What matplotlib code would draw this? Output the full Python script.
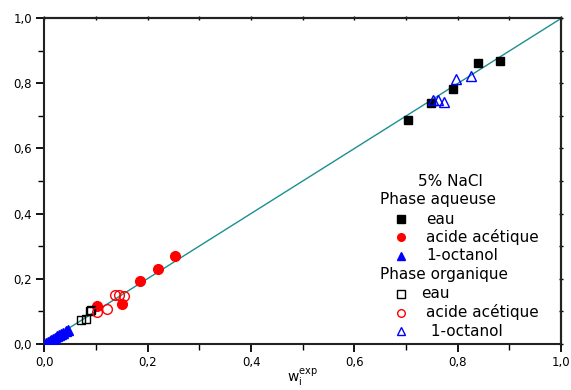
import matplotlib
matplotlib.use("Agg")
import matplotlib.pyplot as plt
from matplotlib.ticker import MultipleLocator, FuncFormatter

# ---- data (w_exp, w_calc) ----
aq_eau_x = [0.703, 0.748, 0.791, 0.839, 0.881]
aq_eau_y = [0.688, 0.739, 0.784, 0.864, 0.870]

aq_acide_x = [0.101, 0.151, 0.184, 0.220, 0.252]
aq_acide_y = [0.114, 0.121, 0.192, 0.230, 0.269]

aq_oct_x = [0.003, 0.007, 0.010, 0.013, 0.017, 0.020, 0.024, 0.028, 0.032, 0.036, 0.041, 0.046]
aq_oct_y = [0.002, 0.006, 0.009, 0.012, 0.015, 0.018, 0.022, 0.026, 0.030, 0.033, 0.038, 0.043]

org_eau_x = [0.071, 0.080, 0.088, 0.091]
org_eau_y = [0.072, 0.075, 0.100, 0.102]

org_acide_x = [0.101, 0.122, 0.136, 0.145, 0.153]
org_acide_y = [0.097, 0.105, 0.149, 0.148, 0.146]

org_oct_x = [0.752, 0.761, 0.773, 0.797, 0.826]
org_oct_y = [0.750, 0.749, 0.744, 0.815, 0.824]

diag = [0.0, 1.0]

fig = plt.figure(figsize=(5.71, 3.90), dpi=100)
ax = fig.add_axes([0.0779, 0.1192, 0.9825 - 0.0779, 0.9526 - 0.1192])

ax.plot(diag, diag, color='#1a9090', lw=1.0, zorder=1)

ax.plot(aq_eau_x, aq_eau_y, 's', color='black', ms=5.8, zorder=3)
ax.plot(aq_acide_x, aq_acide_y, 'o', color='#ff0000', ms=7, zorder=3)
ax.plot(aq_oct_x, aq_oct_y, '^', color='#0000ff', ms=6.5, zorder=3)
ax.plot(org_eau_x, org_eau_y, 's', mfc='none', mec='black', ms=5.8, mew=1.0, zorder=3)
ax.plot(org_acide_x, org_acide_y, 'o', mfc='none', mec='#ff0000', ms=7, mew=1.0, zorder=3)
ax.plot(org_oct_x, org_oct_y, '^', mfc='none', mec='#0000ff', ms=7.5, mew=1.0, zorder=3)

ax.set_xlim(0, 1)
ax.set_ylim(0, 1)

fmt = FuncFormatter(lambda v, p: f"{v:.1f}".replace('.', ','))
for axis in (ax.xaxis, ax.yaxis):
    axis.set_major_locator(MultipleLocator(0.2))
    axis.set_minor_locator(MultipleLocator(0.1))
    axis.set_major_formatter(fmt)

ax.tick_params(which='major', direction='out', length=6, width=1.3, labelsize=8.5, pad=3)
ax.tick_params(which='minor', direction='out', length=4, width=1.0)
for s in ax.spines.values():
    s.set_linewidth(1.5)
    s.set_color('#222222')

top = ax.secondary_xaxis('top')
top.xaxis.set_major_locator(MultipleLocator(0.1))
top.tick_params(direction='inout', length=3, width=1.0, labeltop=False)
top.spines['top'].set_linewidth(1.5)
right = ax.secondary_yaxis('right')
right.yaxis.set_major_locator(MultipleLocator(0.1))
right.tick_params(direction='inout', length=3, width=1.0, labelright=False)
right.spines['right'].set_linewidth(1.5)

ax.set_xlabel(r'$\mathregular{w_i^{exp}}$', fontsize=10)
ax.xaxis.set_label_coords(0.5, -0.068)

# ---- manual legend (figure pixel coordinates from top-left) ----
W, H = 571, 390
def fx(px):
    return px / W
def fy(py):
    return 1 - py / H

tfs = 11
fig.text(fx(450), fy(181), '5% NaCl', ha='center', va='center', fontsize=tfs)
fig.text(fx(380), fy(199.5), 'Phase aqueuse', ha='left', va='center', fontsize=tfs)
fig.text(fx(380), fy(274.5), 'Phase organique', ha='left', va='center', fontsize=tfs)

entries = [
    (219, 's', 'black', True, 'eau', 426),
    (237.5, 'o', '#ff0000', True, 'acide acétique', 426),
    (256, '^', '#0000ff', True, '1-octanol', 426),
    (293.5, 's', 'black', False, 'eau', 421),
    (312.5, 'o', '#ff0000', False, 'acide acétique', 426),
    (331, '^', '#0000ff', False, ' 1-octanol', 426),
]
for py, mk, col, filled, lab, tx in entries:
    kw = dict(color=col, ms=5.5) if filled else dict(mfc='none', mec=col, ms=5.5, mew=1.0)
    fig.add_artist(plt.Line2D([fx(400.5)], [fy(py)], marker=mk, linestyle='none',
                              transform=fig.transFigure, **kw))
    fig.text(fx(tx), fy(py), lab, ha='left', va='center', fontsize=tfs)

fig.savefig('out.png', dpi=100)
